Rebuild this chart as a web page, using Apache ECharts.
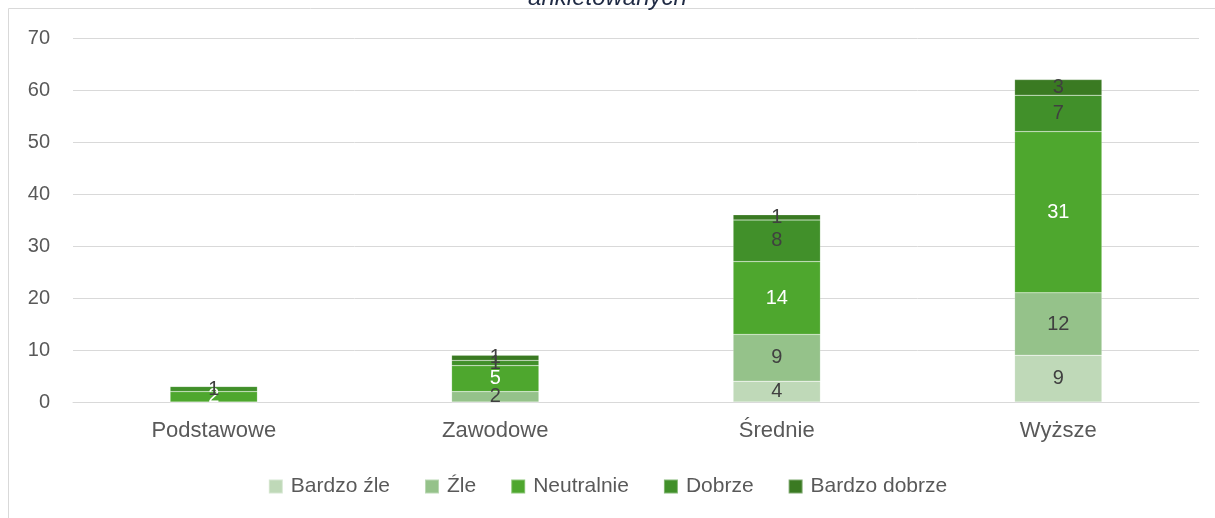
<!DOCTYPE html>
<html>
<head>
<meta charset="utf-8">
<script src="https://cdn.jsdelivr.net/npm/echarts@6/dist/echarts.min.js"></script>
<style>
  html, body { margin: 0; padding: 0; background: #fff; }
  #chart { width: 1215px; height: 518px; }
</style>
</head>
<body>
<div id="chart"></div>
<script>
// kategorie wykształcenia
const categories = ['Podstawowe', 'Zawodowe', 'Średnie', 'Wyższe']
const seriesNames = ['Bardzo źle', 'Źle', 'Neutralnie', 'Dobrze', 'Bardzo dobrze']

// wartości dla każdej oceny
const bardzoZle = [0, 0, 4, 9]
const zle = [0, 2, 9, 12]
const neutralnie = [2, 5, 14, 31]
const dobrze = [1, 1, 8, 7]
const bardzoDobrze = [0, 1, 1, 3]

const yTicks = { min: 0, max: 70, interval: 10 }

const colors = ['#bfd9b8', '#95c28a', '#4ea72e', '#41902a', '#3a7a22']
const labelColors = ['#404040', '#404040', '#ffffff', '#404040', '#404040']
const allValues = [bardzoZle, zle, neutralnie, dobrze, bardzoDobrze]

const fontFamily = 'Liberation Sans, Arial, sans-serif'

const chart = echarts.init(document.getElementById('chart'))

const option = {
  animation: false,
  textStyle: { fontFamily },
  title: {
    text: 'ankietowanych',
    left: 'center',
    top: -19,
    textStyle: {
      fontSize: 24,
      fontStyle: 'italic',
      fontWeight: 'normal',
      color: '#1f2a44',
      fontFamily
    }
  },
  graphic: [
    {
      type: 'rect',
      shape: { x: 8.5, y: 8.5, width: 1300, height: 600 },
      style: { fill: 'none', stroke: '#d9d9d9', lineWidth: 1 },
      silent: true
    }
  ],
  legend: {
    bottom: 16,
    left: 'center',
    itemWidth: 14,
    itemHeight: 14,
    itemGap: 34,
    icon: 'rect',
    textStyle: { fontSize: 21, color: '#595959', fontFamily, padding: [0, 0, 0, 3] }
  },
  grid: {
    left: 73,
    right: 16,
    top: 38,
    bottom: 116
  },
  xAxis: {
    type: 'category',
    data: categories,
    axisTick: { show: false },
    axisLine: { lineStyle: { color: '#d9d9d9', width: 1 } },
    axisLabel: { fontSize: 22, color: '#595959', margin: 18 }
  },
  yAxis: {
    type: 'value',
    min: yTicks.min,
    max: yTicks.max,
    interval: yTicks.interval,
    axisLine: { show: false },
    axisTick: { show: false },
    axisLabel: { fontSize: 20, color: '#595959', margin: 23 },
    splitLine: { lineStyle: { color: '#d9d9d9', width: 1 } }
  },
  series: seriesNames.map((name, i) => ({
    name,
    type: 'bar',
    stack: 'total',
    barWidth: '31%',
    data: allValues[i],
    itemStyle: {
      color: colors[i],
      borderColor: 'rgba(255,255,255,0.35)',
      borderWidth: 0.5
    },
    label: {
      show: true,
      position: 'inside',
      fontSize: 20,
      color: labelColors[i],
      formatter: p => (p.value > 0 ? p.value : '')
    }
  }))
}

chart.setOption(option)
</script>
</body>
</html>
